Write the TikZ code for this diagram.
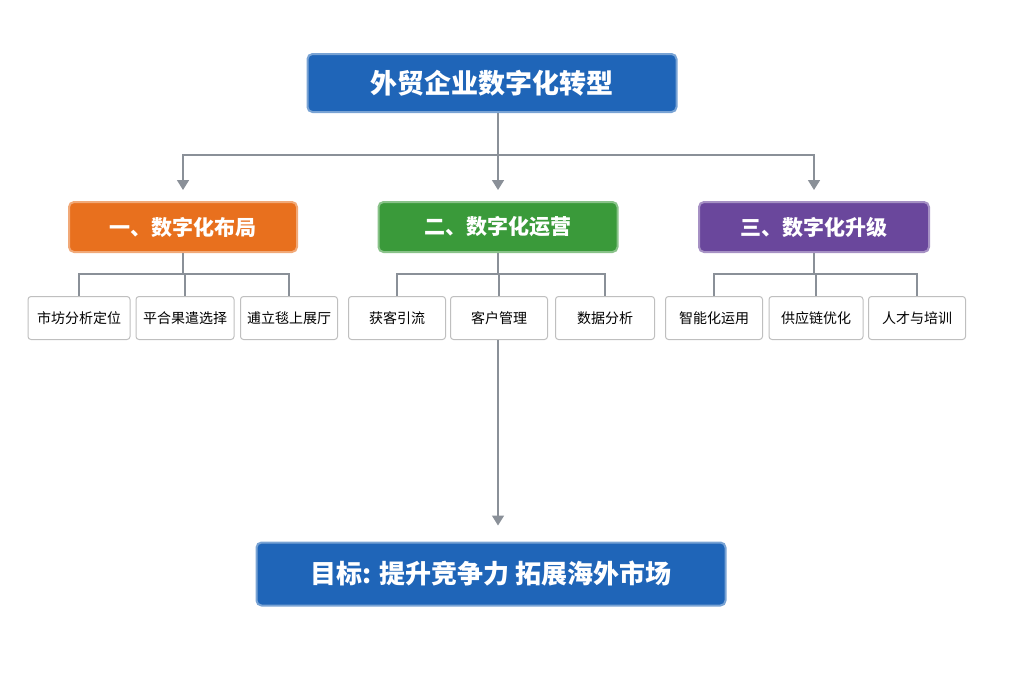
\documentclass[tikz,border=0pt]{standalone}
\usepackage{fontspec}
\setmainfont{Noto Sans CJK SC}
\usetikzlibrary{arrows.meta}
\definecolor{bl}{HTML}{1F65B8}
\definecolor{og}{HTML}{E8701E}
\definecolor{gr}{HTML}{3A9A3A}
\definecolor{pu}{HTML}{6A479C}
\definecolor{ln}{HTML}{8A9098}
\begin{document}
\begin{tikzpicture}[x=1pt,y=-1pt,
 big/.style={draw=#1!60!white,line width=2pt,fill=#1,rounded corners=5pt,text=white,font=\bfseries},
 sm/.style={draw=gray!50,line width=1pt,fill=white,rounded corners=3pt,minimum width=97pt,minimum height=43pt,font=\fontsize{14}{16}\selectfont,inner sep=1pt},
 ln/.style={draw=ln,line width=1.6pt},
 ar/.style={ln,-{Triangle[length=10pt,width=12pt]}}]
\useasboundingbox (0,0) rectangle (1024,683);
\node[big=bl,minimum width=369pt,minimum height=58pt,font=\bfseries\fontsize{27}{30}\selectfont] (t) at (492,83) {外贸企业数字化转型};
\node[big=og,minimum width=228pt,minimum height=50pt,font=\bfseries\fontsize{21}{24}\selectfont] (a) at (183,227) {一、数字化布局};
\node[big=gr,minimum width=239pt,minimum height=50pt,font=\bfseries\fontsize{21}{24}\selectfont] (b) at (498,227) {二、数字化运营};
\node[big=pu,minimum width=230pt,minimum height=50pt,font=\bfseries\fontsize{21}{24}\selectfont] (c) at (814,227) {三、数字化升级};
\node[big=bl,minimum width=469pt,minimum height=63pt,font=\bfseries\fontsize{26}{30}\selectfont] (g) at (491,574) {目标: 提升竞争力\ 拓展海外市场};
\node[sm,minimum width=102pt] (a1) at (79,318) {市坊分析定位};
\node[sm,minimum width=98pt] (a2) at (185,318) {平合果遣选择};
\node[sm,minimum width=97pt] (a3) at (289,318) {逋立毯上展厅};
\node[sm] (b1) at (397,318) {获客引流};
\node[sm] (b2) at (499,318) {客户管理};
\node[sm,minimum width=99pt] (b3) at (605,318) {数据分析};
\node[sm] (c1) at (714,318) {智能化运用};
\node[sm,minimum width=94pt] (c2) at (816,318) {供应链优化};
\node[sm] (c3) at (917,318) {人才与培训};
\coordinate (j) at (498,155);
\draw[ln] (t.south -| j) -- (j);
\draw[ar] (j) -| ([yshift=11pt]a.north);
\draw[ar] (j) -- ([yshift=11pt]b.north);
\draw[ar] (j) -| ([yshift=11pt]c.north);
\foreach \p/\q/\r in {a/a1/a3,b/b1/b3,c/c1/c3}{
 \draw[ln,line width=1.3pt] (\p.south) -- ++(0,22);
 \draw[ln,line width=1.3pt] (\q.north) -- ++(0,-22) -| (\r.north);
}
\draw[ln,line width=1.3pt] (a2.north) -- ++(0,-22);
\draw[ln,line width=1.3pt] (b2.north) -- ++(0,-22);
\draw[ln,line width=1.3pt] (c2.north) -- ++(0,-22);
\draw[ar] (b2.south -| j) -- ([yshift=16pt]g.north -| j);
\end{tikzpicture}
\end{document}
